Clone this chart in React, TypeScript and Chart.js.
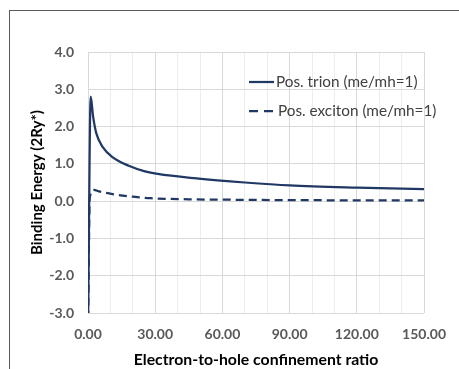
import React, { useEffect, useRef } from 'react';
import { Chart, registerables } from 'chart.js';

Chart.register(...registerables);

// ---- Data ----
const trionX = [0, 1.2, 2.3, 3.75, 6.6, 10.9, 18.2, 25.4, 31.1, 48.4, 70, 90, 120, 150];
const trionY = [-3.5, 2.8, 2.26, 1.81, 1.45, 1.18, 0.95, 0.8, 0.73, 0.61, 0.5, 0.42, 0.36, 0.32];
const excitonX = [0, 0.8, 2.6, 5, 10.9, 20, 28, 45, 70, 100, 150];
const excitonY = [-3.5, 0.1, 0.3, 0.26, 0.19, 0.12, 0.08, 0.05, 0.035, 0.025, 0.02];
const seriesLabels = ['Pos. trion (me/mh=1)', 'Pos. exciton (me/mh=1)'];
const xTitle = 'Electron-to-hole confinement ratio';
const yTitle = 'Binding Energy (2Ry*)';
const xMin = 0;
const xMax = 150;
const xGridStep = 10;
const xLabelStep = 30;
const yMin = -3;
const yMax = 4;
const yStep = 1;

const LINE_COLOR = '#203864';
const FONT = 'Lato';

const legendPlugin = {
  id: 'innerLegend',
  afterDraw(chart: any) {
    const { ctx, chartArea } = chart;
    chart.data.datasets.forEach((ds: any, i: number) => {
      const y = chartArea.top + 30 + i * 29;
      const x0 = chartArea.left + 161;
      ctx.save();
      ctx.strokeStyle = ds.borderColor;
      ctx.lineWidth = 2.25;
      ctx.setLineDash(ds.borderDash && ds.borderDash.length ? [9, 6] : []);
      ctx.beginPath();
      ctx.moveTo(x0, y);
      ctx.lineTo(x0 + 25, y);
      ctx.stroke();
      ctx.setLineDash([]);
      ctx.fillStyle = '#404040';
      ctx.font = `15.3px ${FONT}`;
      ctx.textBaseline = 'middle';
      ctx.textAlign = 'left';
      ctx.fillText(ds.label, x0 + 27 + i * 2, y);
      ctx.restore();
    });
  },
};

export default function App() {
  const canvasRef = useRef<HTMLCanvasElement | null>(null);

  useEffect(() => {
    if (!canvasRef.current) return;
    const chart = new Chart(canvasRef.current, {
      type: 'line',
      data: {
        datasets: [
          {
            label: seriesLabels[0],
            data: trionX.map((x, i) => ({ x, y: trionY[i] })),
            borderColor: LINE_COLOR,
            backgroundColor: LINE_COLOR,
            borderWidth: 2.25,
            pointRadius: 0,
            cubicInterpolationMode: 'monotone',
            fill: false,
          },
          {
            label: seriesLabels[1],
            data: excitonX.map((x, i) => ({ x, y: excitonY[i] })),
            borderColor: LINE_COLOR,
            backgroundColor: LINE_COLOR,
            borderWidth: 2.25,
            borderDash: [8, 5],
            pointRadius: 0,
            cubicInterpolationMode: 'monotone',
            fill: false,
          },
        ],
      },
      options: {
        animation: false,
        responsive: false,
        maintainAspectRatio: false,
        layout: { padding: { left: 0, top: 52, right: 24, bottom: 0 } },
        plugins: {
          legend: { display: false },
          tooltip: { enabled: false },
        },
        scales: {
          x: {
            type: 'linear',
            min: xMin,
            max: xMax,
            afterFit: (s: any) => {
              s.height = 56;
            },
            border: { display: false },
            grid: {
              drawTicks: false,
              color: (c: any) =>
                c.tick && c.tick.value % xLabelStep === 0 ? '#d9d9d9' : '#ededed',
              lineWidth: 1,
            },
            ticks: {
              stepSize: xGridStep,
              autoSkip: false,
              maxRotation: 0,
              padding: 13,
              color: '#595959',
              font: { family: FONT, size: 14, weight: 'bold' },
              callback: (v: any) => (Number(v) % xLabelStep === 0 ? Number(v).toFixed(2) : ''),
            },
            title: {
              display: true,
              text: xTitle,
              color: '#000000',
              font: { family: FONT, size: 15.8, weight: 'bold' },
              padding: { top: 0, bottom: 0 },
            },
          },
          y: {
            type: 'linear',
            min: yMin,
            max: yMax,
            afterFit: (s: any) => {
              s.width = 88;
            },
            border: { display: false },
            grid: { drawTicks: false, color: '#d9d9d9', lineWidth: 1 },
            ticks: {
              stepSize: yStep,
              padding: 14,
              color: '#595959',
              font: { family: FONT, size: 14, weight: 'bold' },
              callback: (v: any) => Number(v).toFixed(1),
            },
            title: {
              display: true,
              text: yTitle,
              color: '#000000',
              font: { family: FONT, size: 15, weight: 'bold' },
              padding: { top: 28, bottom: 0 },
            },
          },
        },
      },
      plugins: [legendPlugin],
    } as any);
    return () => chart.destroy();
  }, []);

  return (
    <div style={{ position: 'fixed', left: 0, top: 0, width: 459, height: 369, background: '#fff', overflow: 'hidden' }}>
      <div
        style={{
          position: 'absolute',
          left: 9,
          top: 10,
          width: 600,
          height: 600,
          borderLeft: '1px solid #595959',
          borderTop: '1px solid #595959',
        }}
      />
      <canvas ref={canvasRef} width={459} height={369} style={{ position: 'absolute', left: 0, top: 0 }} />
    </div>
  );
}
